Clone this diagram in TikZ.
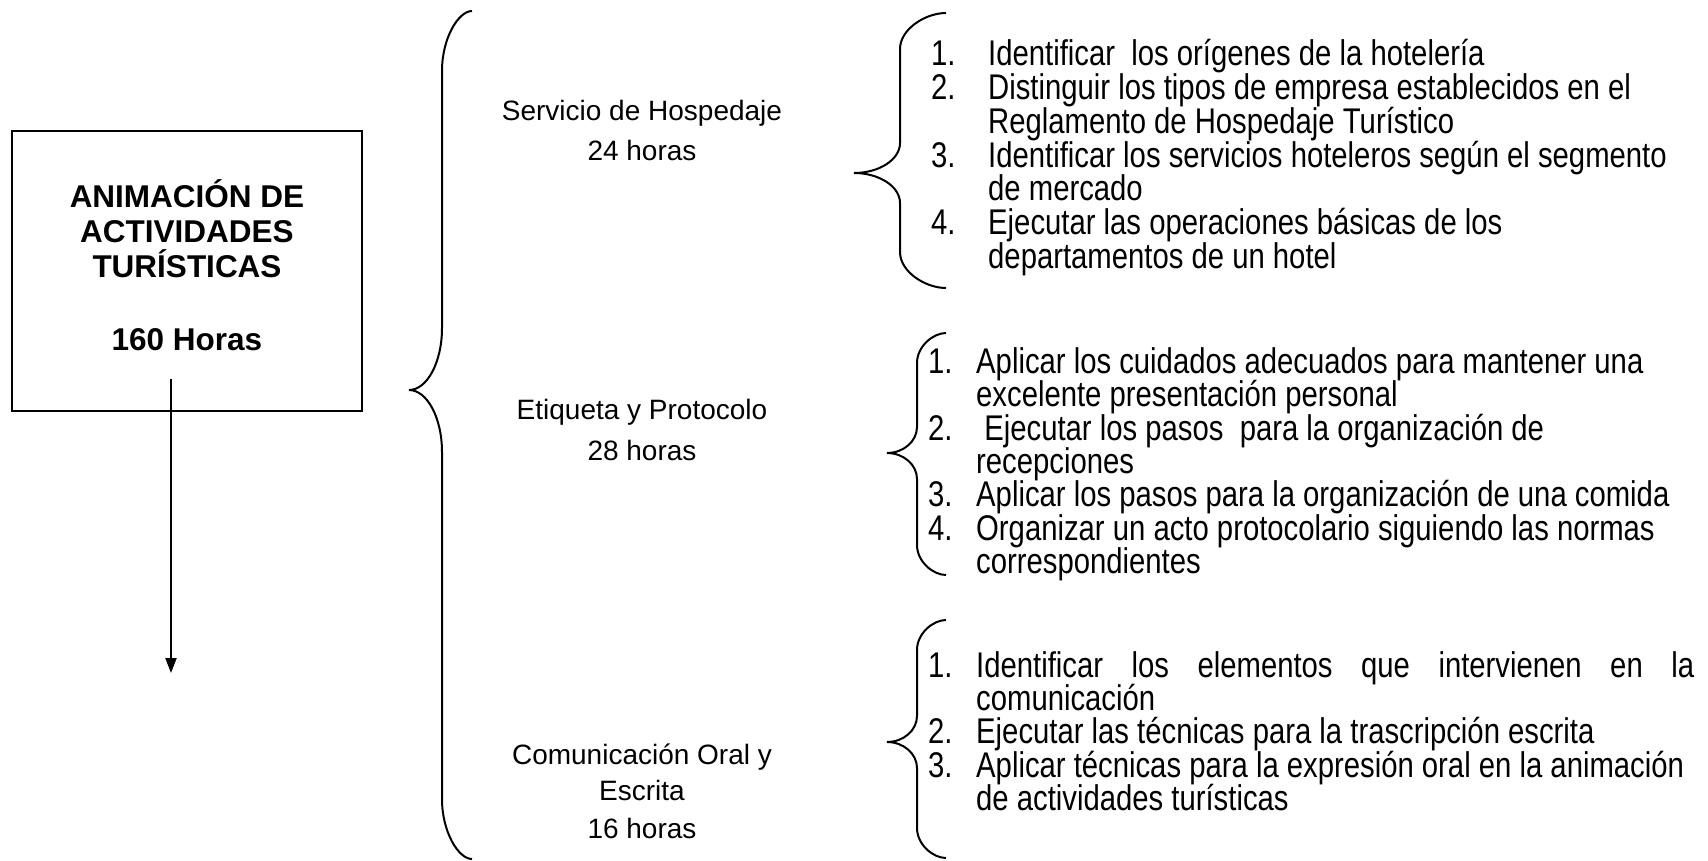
\documentclass[tikz,border=0pt]{standalone}
\usepackage{fontspec}
\setmainfont{Liberation Sans}
\newfontfamily\narrowfont[FakeStretch=0.82]{Liberation Sans}
\usetikzlibrary{arrows.meta}
\newcommand{\drawbrc}[8]{%
\draw[brc] (#1,#4) .. controls ({#2+0.55*(#1-#2)},#4) and (#2,{#4+0.45*#7}) .. (#2,{#4+#7})
 -- (#2,{#5-#8}) .. controls (#2,{#5-0.45*#8}) and ({#3+0.55*(#2-#3)},#5) .. (#3,#5)
 .. controls ({#3+0.55*(#2-#3)},#5) and (#2,{#5+0.45*#8}) .. (#2,{#5+#8})
 -- (#2,{#6-#7}) .. controls (#2,{#6-0.45*#7}) and ({#2+0.55*(#1-#2)},#6) .. (#1,#6);}
\begin{document}
\begin{tikzpicture}[x=1pt,y=-1pt,
  brc/.style={line width=2pt},
  ttl/.style={anchor=base, inner sep=0pt, font=\fontsize{31.5}{36}\selectfont\bfseries},
  lbl/.style={anchor=base, inner sep=0pt, font=\fontsize{28}{34}\selectfont},
  itm/.style={anchor=base west, inner sep=0pt, font=\narrowfont\fontsize{35.7}{34}\selectfont},
  boxst/.style={draw, line width=1.8pt, inner sep=0pt, minimum width=350pt, minimum height=280pt}]
\useasboundingbox (0,0) rectangle (1708,860);
% main box
\node[boxst] (box) at (187,271) {};
\node[ttl] (t1) at (187,207) {ANIMACIÓN DE};
\node[ttl] (t2) at (187,242) {ACTIVIDADES};
\node[ttl] (t3) at (187,277) {TURÍSTICAS};
\node[ttl] (t4) at (187,350) {160 Horas};
\coordinate (astart) at (171,379);
\coordinate (aend) at (171,673);
\draw[line width=2.2pt, -{Triangle[length=15pt,width=11pt]}] (astart) -- (aend);
% big brace
\drawbrc{472}{442}{409}{11}{390}{859}{60}{62}
% labels
\node[lbl] (l1a) at (642,120) {Servicio de Hospedaje};
\node[lbl] (l1b) at (642,160) {24 horas};
\node[lbl] (l2a) at (642,419) {Etiqueta y Protocolo};
\node[lbl] (l2b) at (642,460) {28 horas};
\node[lbl] (l3a) at (642,764) {Comunicación Oral y};
\node[lbl] (l3b) at (642,800) {Escrita};
\node[lbl] (l3c) at (642,838) {16 horas};
% small braces
\drawbrc{946}{900}{854}{13}{173}{288}{36}{30}
\drawbrc{946}{917}{887}{333}{453}{575}{30}{26}
\drawbrc{946}{917}{887}{620}{742}{858}{30}{26}
% list 1
\node[itm] (n11) at (931,65) {1.};
\node[itm] (i11) at (988,65) {Identificar\ \ los orígenes de la hotelería};
\node[itm] (n12) at (931,99) {2.};
\node[itm] (i12) at (988,99) {Distinguir los tipos de empresa establecidos en el};
\node[itm] (i12b) at (988,133) {Reglamento de Hospedaje Turístico};
\node[itm] (n13) at (931,167) {3.};
\node[itm] (i13) at (988,167) {Identificar los servicios hoteleros según el segmento};
\node[itm] (i13b) at (988,200) {de mercado};
\node[itm] (n14) at (931,234) {4.};
\node[itm] (i14) at (988,234) {Ejecutar las operaciones básicas de los};
\node[itm] (i14b) at (988,268) {departamentos de un hotel};
% list 2
\node[itm] (n21) at (928,373) {1.};
\node[itm] (i21) at (976,373) {Aplicar los cuidados adecuados para mantener una};
\node[itm] (i21b) at (976,406) {excelente presentación personal};
\node[itm] (n22) at (928,440) {2.};
\node[itm] (i22) at (976,440) {\ Ejecutar los pasos\ \ para la organización de};
\node[itm] (i22b) at (976,473) {recepciones};
\node[itm] (n23) at (928,506) {3.};
\node[itm] (i23) at (976,506) {Aplicar los pasos para la organización de una comida};
\node[itm] (n24) at (928,540) {4.};
\node[itm] (i24) at (976,540) {Organizar un acto protocolario siguiendo las normas};
\node[itm] (i24b) at (976,573) {correspondientes};
% list 3
\node[itm] (n31) at (928,677) {1.};
\node[itm] (i31) at (976,677) {\makebox[718pt][s]{Identificar los elementos que intervienen en la}};
\node[itm] (i31b) at (976,710) {comunicación};
\node[itm] (n32) at (928,743) {2.};
\node[itm] (i32) at (976,743) {Ejecutar las técnicas para la trascripción escrita};
\node[itm] (n33) at (928,777) {3.};
\node[itm] (i33) at (976,777) {Aplicar técnicas para la expresión oral en la animación};
\node[itm] (i33b) at (976,810) {de actividades turísticas};
\end{tikzpicture}
\end{document}
